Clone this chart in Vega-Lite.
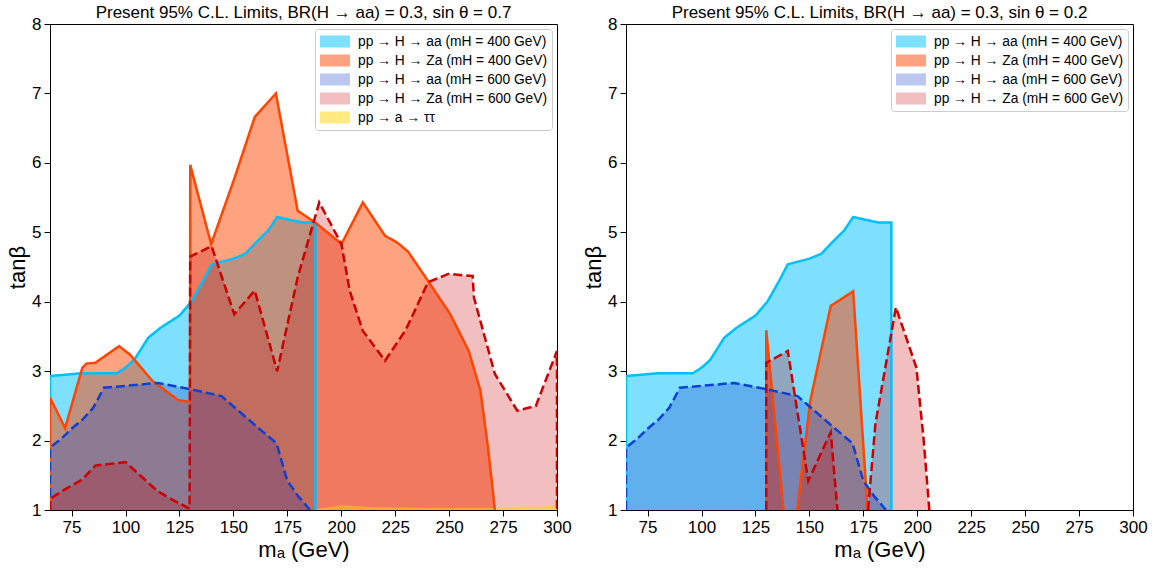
{
 "$schema": "https://vega.github.io/schema/vega-lite/v6.json",
 "background": "white",
 "padding": {"left": 6, "top": 3, "right": 3, "bottom": 3},
 "spacing": 10,
 "config": {
  "font": "Liberation Sans",
  "view": {"stroke": "black", "strokeWidth": 1},
  "axis": {"labelFont": "Liberation Sans", "labelFontSize": 17, "labelColor": "black", "titleFont": "Liberation Sans", "titleFontSize": 22, "titleFontWeight": "normal", "titleColor": "black", "domainColor": "black", "tickColor": "black", "tickWidth": 1, "domainWidth": 1, "grid": false, "zindex": 1},
  "title": {"font": "Liberation Sans", "fontSize": 17, "fontWeight": "normal", "color": "black", "offset": -7},
  "legend": {"orient": "top-right", "offset": 5, "padding": 5, "fillColor": "white", "strokeColor": "#cccccc", "cornerRadius": 3, "labelFont": "Liberation Sans", "labelFontSize": 13.8, "labelColor": "black", "labelLimit": 400, "symbolType": "M-1,-0.8H3V0.8H-1Z", "symbolSize": 225, "symbolStrokeWidth": 0, "symbolOpacity": 1, "rowPadding": 4, "labelOffset": 23}
 },
 "datasets": {
  "d": [
   {"p":"B","s":"A","g":1,"i":0,"x":65,"y":1,"c":1},
   {"p":"B","s":"A","g":1,"i":1,"x":65,"y":2.93},
   {"p":"B","s":"A","g":1,"i":2,"x":80,"y":2.97},
   {"p":"B","s":"A","g":1,"i":3,"x":96,"y":2.97},
   {"p":"B","s":"A","g":1,"i":4,"x":100,"y":3.05},
   {"p":"B","s":"A","g":1,"i":5,"x":104,"y":3.16},
   {"p":"B","s":"A","g":1,"i":6,"x":110.5,"y":3.48},
   {"p":"B","s":"A","g":1,"i":7,"x":116,"y":3.62},
   {"p":"B","s":"A","g":1,"i":8,"x":125,"y":3.8},
   {"p":"B","s":"A","g":1,"i":9,"x":130.5,"y":4.0},
   {"p":"B","s":"A","g":1,"i":10,"x":136,"y":4.3},
   {"p":"B","s":"A","g":1,"i":11,"x":140,"y":4.54},
   {"p":"B","s":"A","g":1,"i":12,"x":150,"y":4.62},
   {"p":"B","s":"A","g":1,"i":13,"x":155.5,"y":4.69},
   {"p":"B","s":"A","g":1,"i":14,"x":162,"y":4.9},
   {"p":"B","s":"A","g":1,"i":15,"x":166,"y":5.02},
   {"p":"B","s":"A","g":1,"i":16,"x":170.3,"y":5.22},
   {"p":"B","s":"A","g":1,"i":17,"x":182,"y":5.14},
   {"p":"B","s":"A","g":1,"i":18,"x":188,"y":5.14},
   {"p":"B","s":"A","g":1,"i":19,"x":188,"y":1,"c":1},

   {"p":"L","s":"B","g":1,"i":0,"x":65,"y":1,"c":1},
   {"p":"L","s":"B","g":1,"i":1,"x":65,"y":2.62},
   {"p":"L","s":"B","g":1,"i":2,"x":72,"y":2.18},
   {"p":"L","s":"B","g":1,"i":3,"x":80,"y":3.05},
   {"p":"L","s":"B","g":1,"i":4,"x":82,"y":3.11},
   {"p":"L","s":"B","g":1,"i":5,"x":86,"y":3.12},
   {"p":"L","s":"B","g":1,"i":6,"x":97,"y":3.36},
   {"p":"L","s":"B","g":1,"i":7,"x":102,"y":3.24},
   {"p":"L","s":"B","g":1,"i":8,"x":112.5,"y":2.86},
   {"p":"L","s":"B","g":1,"i":9,"x":124.5,"y":2.58},
   {"p":"L","s":"B","g":1,"i":10,"x":129.9,"y":2.56},
   {"p":"L","s":"B","g":1,"i":11,"x":130,"y":5.97},
   {"p":"L","s":"B","g":1,"i":12,"x":139.7,"y":4.83},
   {"p":"L","s":"B","g":1,"i":13,"x":150.4,"y":5.77},
   {"p":"L","s":"B","g":1,"i":14,"x":159.9,"y":6.66},
   {"p":"L","s":"B","g":1,"i":15,"x":169.7,"y":7.0},
   {"p":"L","s":"B","g":1,"i":16,"x":179.8,"y":5.31},
   {"p":"L","s":"B","g":1,"i":17,"x":188.4,"y":5.13},
   {"p":"L","s":"B","g":1,"i":18,"x":200.1,"y":4.83},
   {"p":"L","s":"B","g":1,"i":19,"x":210,"y":5.43},
   {"p":"L","s":"B","g":1,"i":20,"x":220.3,"y":4.95},
   {"p":"L","s":"B","g":1,"i":21,"x":226,"y":4.85},
   {"p":"L","s":"B","g":1,"i":22,"x":231,"y":4.72},
   {"p":"L","s":"B","g":1,"i":23,"x":240.2,"y":4.3},
   {"p":"L","s":"B","g":1,"i":24,"x":250.5,"y":3.82},
   {"p":"L","s":"B","g":1,"i":25,"x":259.1,"y":3.29},
   {"p":"L","s":"B","g":1,"i":26,"x":264.5,"y":2.72},
   {"p":"L","s":"B","g":1,"i":27,"x":268,"y":1.9},
   {"p":"L","s":"B","g":1,"i":28,"x":270.6,"y":1.18},
   {"p":"L","s":"B","g":1,"i":29,"x":271.2,"y":1},

   {"p":"R","s":"B","g":1,"i":0,"x":130,"y":1,"c":1},
   {"p":"R","s":"B","g":1,"i":1,"x":130,"y":3.59},
   {"p":"R","s":"B","g":1,"i":2,"x":138,"y":1},
   {"p":"R","s":"B","g":2,"i":0,"x":144.4,"y":1},
   {"p":"R","s":"B","g":2,"i":1,"x":150.4,"y":2.57},
   {"p":"R","s":"B","g":2,"i":2,"x":159.9,"y":3.94},
   {"p":"R","s":"B","g":2,"i":3,"x":170.3,"y":4.15},
   {"p":"R","s":"B","g":2,"i":4,"x":176.3,"y":1.32},
   {"p":"R","s":"B","g":2,"i":5,"x":176.8,"y":1},

   {"p":"B","s":"C","g":1,"i":0,"x":65,"y":1,"c":1},
   {"p":"B","s":"C","g":1,"i":1,"x":65,"y":1.9},
   {"p":"B","s":"C","g":1,"i":2,"x":70,"y":2.02},
   {"p":"B","s":"C","g":1,"i":3,"x":75,"y":2.17},
   {"p":"B","s":"C","g":1,"i":4,"x":80,"y":2.3},
   {"p":"B","s":"C","g":1,"i":5,"x":85,"y":2.47},
   {"p":"B","s":"C","g":1,"i":6,"x":90,"y":2.76},
   {"p":"B","s":"C","g":1,"i":7,"x":115,"y":2.83},
   {"p":"B","s":"C","g":1,"i":8,"x":130,"y":2.74},
   {"p":"B","s":"C","g":1,"i":9,"x":144.5,"y":2.64},
   {"p":"B","s":"C","g":1,"i":10,"x":162,"y":2.17},
   {"p":"B","s":"C","g":1,"i":11,"x":170,"y":1.96},
   {"p":"B","s":"C","g":1,"i":12,"x":175,"y":1.42},
   {"p":"B","s":"C","g":1,"i":13,"x":180,"y":1.2},
   {"p":"B","s":"C","g":1,"i":14,"x":185.5,"y":1.0},

   {"p":"L","s":"D","g":1,"i":0,"x":65,"y":1,"c":1},
   {"p":"L","s":"D","g":1,"i":1,"x":65,"y":1.16},
   {"p":"L","s":"D","g":1,"i":2,"x":71,"y":1.28},
   {"p":"L","s":"D","g":1,"i":3,"x":80,"y":1.44},
   {"p":"L","s":"D","g":1,"i":4,"x":86,"y":1.64},
   {"p":"L","s":"D","g":1,"i":5,"x":100,"y":1.69},
   {"p":"L","s":"D","g":1,"i":6,"x":114.5,"y":1.28},
   {"p":"L","s":"D","g":1,"i":7,"x":121,"y":1.16},
   {"p":"L","s":"D","g":1,"i":8,"x":129.7,"y":1.02},
   {"p":"L","s":"D","g":1,"i":9,"x":130,"y":4.65},
   {"p":"L","s":"D","g":1,"i":10,"x":139.9,"y":4.8},
   {"p":"L","s":"D","g":1,"i":11,"x":150.4,"y":3.82},
   {"p":"L","s":"D","g":1,"i":12,"x":159.9,"y":4.16},
   {"p":"L","s":"D","g":1,"i":13,"x":170.3,"y":3.0},
   {"p":"L","s":"D","g":1,"i":14,"x":179.8,"y":4.35},
   {"p":"L","s":"D","g":1,"i":15,"x":189.8,"y":5.43},
   {"p":"L","s":"D","g":1,"i":16,"x":200.1,"y":4.83},
   {"p":"L","s":"D","g":1,"i":17,"x":203.9,"y":4.16},
   {"p":"L","s":"D","g":1,"i":18,"x":210,"y":3.58},
   {"p":"L","s":"D","g":1,"i":19,"x":220.3,"y":3.15},
   {"p":"L","s":"D","g":1,"i":20,"x":230,"y":3.6},
   {"p":"L","s":"D","g":1,"i":21,"x":240.2,"y":4.28},
   {"p":"L","s":"D","g":1,"i":22,"x":249.6,"y":4.4},
   {"p":"L","s":"D","g":1,"i":23,"x":260.9,"y":4.37},
   {"p":"L","s":"D","g":1,"i":24,"x":261.5,"y":4.06},
   {"p":"L","s":"D","g":1,"i":25,"x":271.2,"y":2.96},
   {"p":"L","s":"D","g":1,"i":26,"x":281.6,"y":2.43},
   {"p":"L","s":"D","g":1,"i":27,"x":290.2,"y":2.5},
   {"p":"L","s":"D","g":1,"i":28,"x":300,"y":3.29},
   {"p":"L","s":"D","g":1,"i":29,"x":300,"y":1,"c":1},

   {"p":"R","s":"D","g":1,"i":0,"x":130,"y":1,"c":1},
   {"p":"R","s":"D","g":1,"i":1,"x":130,"y":3.12},
   {"p":"R","s":"D","g":1,"i":2,"x":140,"y":3.29},
   {"p":"R","s":"D","g":1,"i":3,"x":149.5,"y":1.42},
   {"p":"R","s":"D","g":1,"i":4,"x":159.9,"y":2.12},
   {"p":"R","s":"D","g":1,"i":5,"x":163,"y":1},
   {"p":"R","s":"D","g":2,"i":0,"x":177.2,"y":1},
   {"p":"R","s":"D","g":2,"i":1,"x":180.6,"y":2.24},
   {"p":"R","s":"D","g":2,"i":2,"x":190.1,"y":3.92},
   {"p":"R","s":"D","g":2,"i":3,"x":199.6,"y":3.05},
   {"p":"R","s":"D","g":2,"i":4,"x":203,"y":2.0},
   {"p":"R","s":"D","g":2,"i":5,"x":205.6,"y":1},

   {"p":"L","s":"E","g":1,"i":0,"x":188,"y":1},
   {"p":"L","s":"E","g":1,"i":1,"x":190,"y":1.02},
   {"p":"L","s":"E","g":1,"i":2,"x":200,"y":1.07},
   {"p":"L","s":"E","g":1,"i":3,"x":215,"y":1.04},
   {"p":"L","s":"E","g":1,"i":4,"x":250,"y":1.03},
   {"p":"L","s":"E","g":1,"i":5,"x":275,"y":1.03},
   {"p":"L","s":"E","g":1,"i":6,"x":300,"y":1.06},
   {"p":"L","s":"E","g":1,"i":7,"x":300,"y":1,"c":1}
  ]
 },
 "resolve": {"scale": {"fill": "independent", "color": "independent", "stroke": "independent", "strokeDash": "independent"}},
 "hconcat": [
  {
   "width": 507, "height": 486,
   "title": {"text": "Present 95% C.L. Limits, BR(H → aa) = 0.3, sin θ = 0.7"},
   "data": {"name": "d"},
   "transform": [{"filter": "datum.p != 'R'"}],
   "layer": [
    {
     "transform": [{"filter": "datum.s == 'A' && !datum.c"}],
     "mark": {"type": "area", "clip": true, "fillOpacity": 0.5},
     "encoding": {
      "x": {"field": "x", "type": "quantitative", "scale": {"domain": [65, 300], "nice": false, "zero": false},
       "axis": {"values": [75,100,125,150,175,200,225,250,275,300], "format": "d", "tickSize": 6, "labelPadding": 3, "labelFlush": false, "title": "mₐ (GeV)", "titlePadding": 4}},
      "y": {"field": "y", "type": "quantitative", "scale": {"domain": [1, 8], "nice": false, "zero": false},
       "axis": {"values": [1,2,3,4,5,6,7,8], "format": "d", "tickSize": 6, "labelPadding": 3, "labelFlush": false, "title": "tanβ", "titlePadding": 2}},
      "color": {"value": "#00bfff"}
     }
    },
    {
     "transform": [{"filter": "datum.s == 'B' && !datum.c"}],
     "mark": {"type": "area", "clip": true, "fillOpacity": 0.5},
     "encoding": {"x": {"field": "x", "type": "quantitative"}, "y": {"field": "y", "type": "quantitative"}, "color": {"value": "#ff4500"}}
    },
    {
     "transform": [{"filter": "datum.s == 'C' && !datum.c"}],
     "mark": {"type": "area", "clip": true, "fillOpacity": 0.3},
     "encoding": {"x": {"field": "x", "type": "quantitative"}, "y": {"field": "y", "type": "quantitative"}, "color": {"value": "#1a45c8"}}
    },
    {
     "transform": [{"filter": "datum.s == 'D' && !datum.c"}],
     "mark": {"type": "area", "clip": true, "fillOpacity": 0.25},
     "encoding": {"x": {"field": "x", "type": "quantitative"}, "y": {"field": "y", "type": "quantitative"}, "color": {"value": "#c80000"}}
    },
    {
     "transform": [{"filter": "datum.s == 'E' && !datum.c"}],
     "mark": {"type": "area", "clip": true, "fillOpacity": 0.5},
     "encoding": {"x": {"field": "x", "type": "quantitative"}, "y": {"field": "y", "type": "quantitative"}, "color": {"value": "#ffd700"}}
    },
    {
     "mark": {"type": "point", "filled": true, "opacity": 0, "clip": true},
     "encoding": {
      "x": {"field": "x", "type": "quantitative"},
      "y": {"field": "y", "type": "quantitative"},
      "fill": {"field": "s", "type": "nominal", "scale": {"domain": ["A","B","C","D","E"], "range": ["#00bfff","#ff4500","#1a45c8","#c80000","#ffd700"]},
       "legend": {"title": null,
        "labelExpr": "datum.label == 'A' ? 'pp → H → aa (mH = 400 GeV)' : datum.label == 'B' ? 'pp → H → Za (mH = 400 GeV)' : datum.label == 'C' ? 'pp → H → aa (mH = 600 GeV)' : datum.label == 'D' ? 'pp → H → Za (mH = 600 GeV)' : 'pp → a → ττ'",
        "encode": {"symbols": {"update": {"fillOpacity": {"signal": "datum.value == 'C' ? 0.3 : datum.value == 'D' ? 0.25 : 0.5"}, "opacity": {"value": 1}, "strokeWidth": {"value": 0}}}}}}
     }
    },
    {
     "transform": [{"filter": "datum.s != 'E'"}],
     "mark": {"type": "line", "clip": true, "strokeWidth": 2.5},
     "encoding": {
      "x": {"field": "x", "type": "quantitative"},
      "y": {"field": "y", "type": "quantitative"},
      "stroke": {"field": "s", "type": "nominal", "scale": {"domain": ["A","B","C","D"], "range": ["#00bfff","#ff4500","#1040d0","#cc0000"]}, "legend": null},
      "strokeDash": {"field": "s", "type": "nominal", "scale": {"domain": ["A","B","C","D"], "range": [[1,0],[1,0],[9,4],[9,4]]}, "legend": null},
      "detail": {"field": "g"},
      "order": {"field": "i", "type": "quantitative"}
     }
    }
   ]
  },
  {
   "width": 507, "height": 486,
   "title": {"text": "Present 95% C.L. Limits, BR(H → aa) = 0.3, sin θ = 0.2"},
   "data": {"name": "d"},
   "transform": [{"filter": "datum.p != 'L'"}],
   "layer": [
    {
     "transform": [{"filter": "datum.s == 'A' && !datum.c"}],
     "mark": {"type": "area", "clip": true, "fillOpacity": 0.5},
     "encoding": {
      "x": {"field": "x", "type": "quantitative", "scale": {"domain": [65, 300], "nice": false, "zero": false},
       "axis": {"values": [75,100,125,150,175,200,225,250,275,300], "format": "d", "tickSize": 6, "labelPadding": 3, "labelFlush": false, "title": "mₐ (GeV)", "titlePadding": 4}},
      "y": {"field": "y", "type": "quantitative", "scale": {"domain": [1, 8], "nice": false, "zero": false},
       "axis": {"values": [1,2,3,4,5,6,7,8], "format": "d", "tickSize": 6, "labelPadding": 3, "labelFlush": false, "title": "tanβ", "titlePadding": 2}},
      "color": {"value": "#00bfff"}
     }
    },
    {
     "transform": [{"filter": "datum.s == 'B' && datum.g == 1 && !datum.c"}],
     "mark": {"type": "area", "clip": true, "fillOpacity": 0.5},
     "encoding": {"x": {"field": "x", "type": "quantitative"}, "y": {"field": "y", "type": "quantitative"}, "color": {"value": "#ff4500"}}
    },
    {
     "transform": [{"filter": "datum.s == 'B' && datum.g == 2 && !datum.c"}],
     "mark": {"type": "area", "clip": true, "fillOpacity": 0.5},
     "encoding": {"x": {"field": "x", "type": "quantitative"}, "y": {"field": "y", "type": "quantitative"}, "color": {"value": "#ff4500"}}
    },
    {
     "transform": [{"filter": "datum.s == 'C' && !datum.c"}],
     "mark": {"type": "area", "clip": true, "fillOpacity": 0.3},
     "encoding": {"x": {"field": "x", "type": "quantitative"}, "y": {"field": "y", "type": "quantitative"}, "color": {"value": "#1a45c8"}}
    },
    {
     "transform": [{"filter": "datum.s == 'D' && datum.g == 1 && !datum.c"}],
     "mark": {"type": "area", "clip": true, "fillOpacity": 0.25},
     "encoding": {"x": {"field": "x", "type": "quantitative"}, "y": {"field": "y", "type": "quantitative"}, "color": {"value": "#c80000"}}
    },
    {
     "transform": [{"filter": "datum.s == 'D' && datum.g == 2 && !datum.c"}],
     "mark": {"type": "area", "clip": true, "fillOpacity": 0.25},
     "encoding": {"x": {"field": "x", "type": "quantitative"}, "y": {"field": "y", "type": "quantitative"}, "color": {"value": "#c80000"}}
    },
    {
     "mark": {"type": "point", "filled": true, "opacity": 0, "clip": true},
     "encoding": {
      "x": {"field": "x", "type": "quantitative"},
      "y": {"field": "y", "type": "quantitative"},
      "color": {"field": "s", "type": "nominal", "scale": {"domain": ["A","B","C","D"], "range": ["#00bfff","#ff4500","#1a45c8","#c80000"]},
       "legend": {"title": null,
        "labelExpr": "datum.label == 'A' ? 'pp → H → aa (mH = 400 GeV)' : datum.label == 'B' ? 'pp → H → Za (mH = 400 GeV)' : datum.label == 'C' ? 'pp → H → aa (mH = 600 GeV)' : 'pp → H → Za (mH = 600 GeV)'",
        "encode": {"symbols": {"update": {"fillOpacity": {"signal": "datum.value == 'C' ? 0.3 : datum.value == 'D' ? 0.25 : 0.5"}, "opacity": {"value": 1}, "strokeWidth": {"value": 0}}}}}}
     }
    },
    {
     "mark": {"type": "line", "clip": true, "strokeWidth": 2.5},
     "encoding": {
      "x": {"field": "x", "type": "quantitative"},
      "y": {"field": "y", "type": "quantitative"},
      "stroke": {"field": "s", "type": "nominal", "scale": {"domain": ["A","B","C","D"], "range": ["#00bfff","#ff4500","#1040d0","#cc0000"]}, "legend": null},
      "strokeDash": {"field": "s", "type": "nominal", "scale": {"domain": ["A","B","C","D"], "range": [[1,0],[1,0],[9,4],[9,4]]}, "legend": null},
      "detail": {"field": "g"},
      "order": {"field": "i", "type": "quantitative"}
     }
    }
   ]
  }
 ]
}
